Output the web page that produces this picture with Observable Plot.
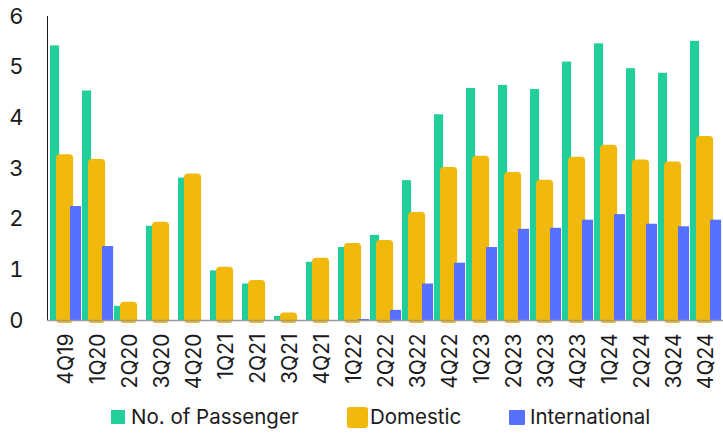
<!DOCTYPE html>
<html>
<head>
<meta charset="utf-8">
<script src="https://cdn.jsdelivr.net/npm/d3@7"></script>
<script src="https://cdn.jsdelivr.net/npm/@observablehq/plot@0.6"></script>
<style>
  body { margin: 0; background: #fff; }
  #wrap { position: relative; width: 723px; height: 434px; overflow: hidden; font-family: Inter, "Noto Sans", sans-serif; }
  #wrap svg { display: block; }
  g[aria-label="y-axis tick label"] { font-size: 22px; }
  g[aria-label="x-axis tick label"] { font-size: 21px; }
  g[aria-label="y-axis line"] { stroke: #9a9a9a; }
  .lg { position: absolute; font-size: 20.5px; line-height: 20px; color: #1a1a1a; white-space: nowrap; }
  .sw { position: absolute; }
</style>
</head>
<body>
<div id="wrap"></div>
<script>
const quarters = ["4Q19","1Q20","2Q20","3Q20","4Q20","1Q21","2Q21","3Q21","4Q21","1Q22","2Q22","3Q22","4Q22","1Q23","2Q23","3Q23","4Q23","1Q24","2Q24","3Q24","4Q24"];
const passengers    = [5.42,4.53,0.28,1.86,2.81,0.98,0.72,0.08,1.15,1.44,1.68,2.76,4.06,4.58,4.64,4.56,5.10,5.46,4.97,4.88,5.51];
const domestic      = [3.27,3.18,0.36,1.94,2.89,1.05,0.79,0.15,1.23,1.52,1.58,2.13,3.02,3.24,2.92,2.77,3.22,3.46,3.17,3.13,3.63];
const international = [2.25,1.46,0,0,0,0,0,0,0,0.02,0.20,0.72,1.13,1.44,1.80,1.82,1.98,2.09,1.90,1.85,1.98];
const yTicks = [0,1,2,3,4,5,6];
const seriesNames = ["No. of Passenger","Domestic","International"];
const colors = ["#22CE99","#F0B90B","#5670FF"];

const rows = quarters.map((q, i) => ({q, p: passengers[i], d: domestic[i], n: international[i]}));

const chart = Plot.plot({
  width: 723,
  height: 400,
  marginTop: 16,
  marginBottom: 80,
  marginLeft: 47,
  marginRight: 0,
  style: {fontFamily: "Inter, 'Noto Sans', sans-serif", color: "#1a1a1a", background: "#fff"},
  x: {domain: quarters, range: [47, 725], padding: 0, label: null, tickSize: 0, tickRotate: -90, tickPadding: 13},
  y: {domain: [0, 6], ticks: yTicks, tickFormat: d3.format("d"), label: null, tickSize: 0, tickPadding: 24, line: true},
  marks: [
    Plot.barY(rows, {x: "q", y: "p", fill: colors[0], insetLeft: 0, insetRight: 22.9}),
    Plot.barY(rows, {x: "q", y: "d", fill: colors[1], insetLeft: 6, insetRight: 8.9, insetBottom: -3, rx: 4}),
    Plot.barY(rows.filter(r => r.n > 0), {x: "q", y: "n", fill: colors[2], insetLeft: 20, insetRight: 0.9}),
    Plot.ruleY([0], {stroke: "#9a9a9a", strokeWidth: 1.5})
  ]
});

const wrap = document.getElementById("wrap");
wrap.appendChild(chart);

const legendItems = [
  {name: seriesNames[0], color: colors[0], sx: 111, sy: 410, sw: 14, sh: 14, r: 0, tx: 131},
  {name: seriesNames[1], color: colors[1], sx: 347, sy: 407, sw: 21, sh: 21, r: 3, tx: 370},
  {name: seriesNames[2], color: colors[2], sx: 509, sy: 410, sw: 16, sh: 15, r: 1, tx: 530}
];
for (const it of legendItems) {
  const s = document.createElement("div");
  s.className = "sw";
  s.style.cssText = `left:${it.sx}px;top:${it.sy}px;width:${it.sw}px;height:${it.sh}px;background:${it.color};border-radius:${it.r}px;`;
  wrap.appendChild(s);
  const t = document.createElement("div");
  t.className = "lg";
  t.style.left = it.tx + "px";
  t.style.top = "407px";
  t.textContent = it.name;
  wrap.appendChild(t);
}
</script>
</body>
</html>
